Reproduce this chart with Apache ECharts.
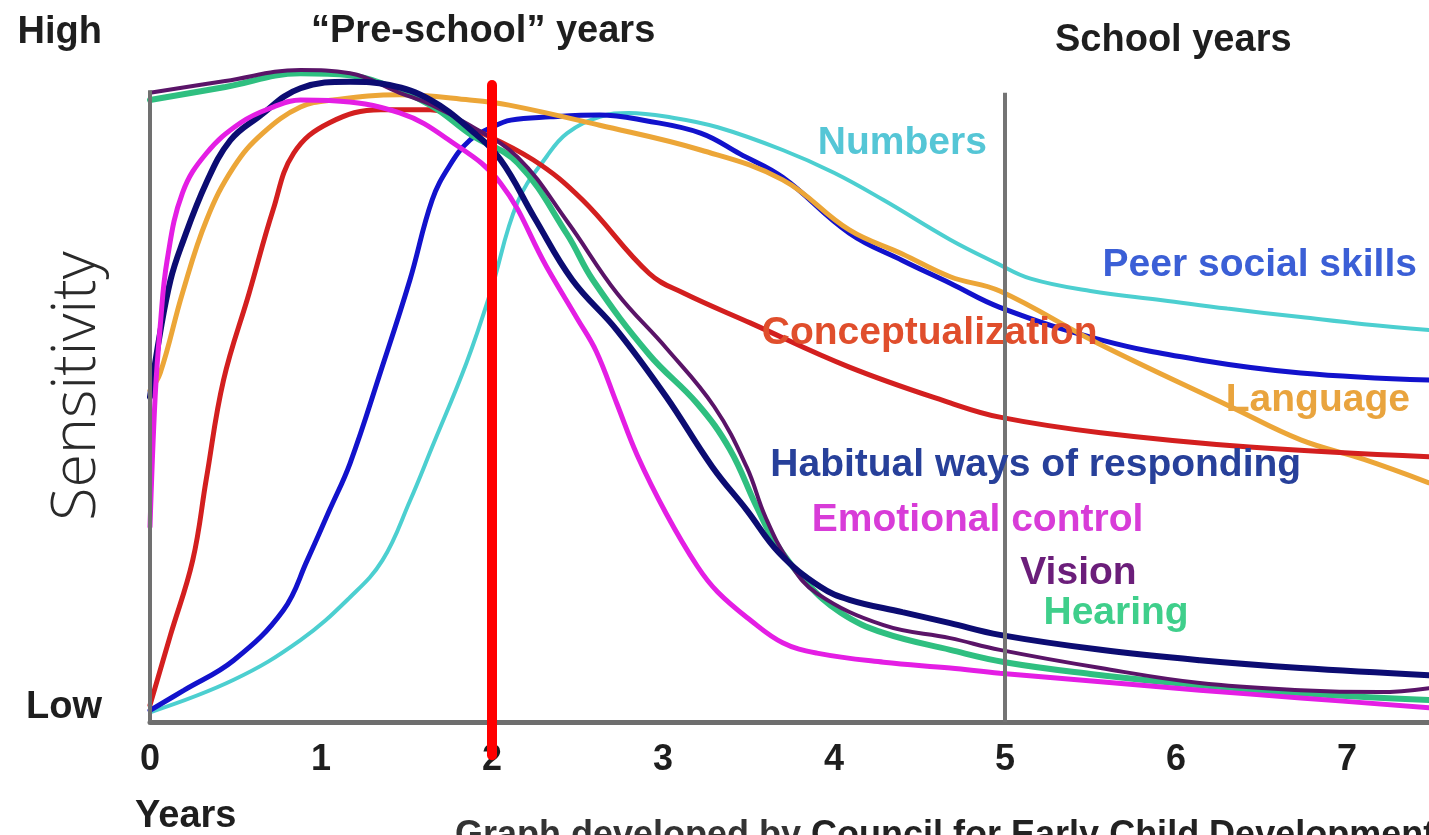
<!DOCTYPE html>
<html>
<head>
<meta charset="utf-8">
<title>Sensitivity by age</title>
<script src="https://cdn.jsdelivr.net/npm/echarts@6/dist/echarts.min.js"></script>
<style>
  html, body { margin: 0; padding: 0; background: #fff; }
  #chart { width: 1429px; height: 835px; }
</style>
</head>
<body>
<div id="chart"></div>
<script>
// x = age in years, y = sensitivity (0 = low ... ~100 = high)
const yearTicks = [0, 1, 2, 3, 4, 5, 6, 7];
const levelTicks = [2.3, 106];
const levelNames = ["Low", "High"];

const numbers = [[0,1.5],[0.49,6.5],[0.88,12.6],[1.17,19.2],[1.36,24.9],[1.52,34],[1.65,42.3],[1.85,55.2],[1.99,66],[2.15,80],[2.32,87],[2.44,90.6],[2.63,93.1],[2.8,93.7],[3.05,93],[3.32,91.5],[3.7,88],[4.0,84.5],[4.29,80.3],[4.68,74.2],[4.95,70.6],[5.15,68.2],[5.5,66.3],[5.92,64.9],[6.3,63.6],[6.73,62.3],[7.1,61.2],[7.48,60.3]];
const peerSocial = [[0,1.8],[0.2,4.9],[0.49,9.5],[0.78,17.2],[0.92,24.9],[1.05,32.6],[1.17,39.8],[1.35,54],[1.52,68],[1.65,80.3],[1.75,85.5],[1.87,89.5],[2.0,91.5],[2.11,92.6],[2.34,93.1],[2.63,93.4],[2.9,92.5],[3.22,90.6],[3.45,87.4],[3.7,83.8],[4.09,75.2],[4.4,71],[4.68,67.5],[4.97,63.8],[5.56,58.8],[6.14,55.7],[6.73,53.7],[7.48,52.6]];
const language = [[0,51],[0.06,53.7],[0.19,66],[0.33,77.2],[0.49,85.4],[0.66,90.6],[0.88,94.6],[1.07,95.7],[1.46,96.5],[1.87,95.7],[2.1,94.9],[2.63,91.8],[3.22,88],[3.7,83.4],[4.09,75.7],[4.4,72],[4.68,68.5],[4.97,66.3],[5.54,58.3],[6.32,48.5],[6.73,43.4],[7.1,40.4],[7.48,36.8]];
const conceptualization = [[0,2.6],[0.12,13.4],[0.25,24.9],[0.33,37.5],[0.43,52.6],[0.58,66],[0.72,78.8],[0.84,87.5],[1.05,92.2],[1.35,94.2],[1.64,94.2],[1.87,91.5],[2.24,86.5],[2.53,80.3],[2.92,69],[3.12,66],[3.51,61.4],[4.09,54.6],[4.68,49.1],[4.97,46.9],[5.56,44.5],[6.43,42.3],[7.48,40.8]];
const habitual = [[0,50],[0.06,60],[0.12,68],[0.18,73],[0.33,83],[0.47,89.5],[0.63,93],[0.88,97.5],[1.17,98.5],[1.4,98],[1.64,95.7],[1.88,91],[2.05,86.5],[2.25,77.5],[2.47,68],[2.73,60.3],[3.02,50],[3.29,39.2],[3.49,32.6],[3.68,26],[3.92,20.8],[4.09,18.8],[4.4,16.9],[4.68,15.2],[4.97,13.4],[5.56,11.1],[6.14,9.5],[6.73,8.3],[7.48,7.2]];
const emotional = [[0,30],[0.03,50],[0.06,61],[0.1,71],[0.19,81.4],[0.33,87.5],[0.53,92.2],[0.72,94.6],[0.88,95.7],[1.05,95.6],[1.46,93.7],[1.75,89.5],[2.05,82.9],[2.32,70],[2.5,62],[2.61,57],[2.73,49],[2.85,41],[3.02,32],[3.2,24],[3.32,20],[3.51,15.7],[3.7,12.2],[3.9,10.6],[4.29,9.2],[4.68,8.3],[4.97,7.5],[5.56,6.2],[6.14,4.9],[6.73,3.7],[7.48,2.2]];
const vision = [[0,96.8],[0.44,98.6],[0.88,100.3],[1.17,99.8],[1.46,96.8],[1.64,95],[1.87,91.8],[2.15,86.9],[2.44,77],[2.73,66],[3.02,57.5],[3.3,48.5],[3.49,39.2],[3.6,31.5],[3.74,24.5],[3.9,19.8],[4.29,14.9],[4.68,12.9],[4.97,11.1],[5.56,8.3],[6.14,6],[6.73,4.9],[7.19,4.6],[7.48,5.2]];
const hearing = [[0,95.7],[0.44,97.7],[0.88,99.8],[1.17,99.5],[1.35,98.3],[1.64,94.9],[1.88,90.3],[2.15,86],[2.44,75],[2.59,68],[2.92,56.5],[3.2,49],[3.39,42],[3.55,33],[3.66,27.5],[3.84,21.4],[4.04,16.8],[4.29,13.7],[4.68,11.1],[5.0,9.2],[5.5,7.4],[6,6],[6.5,4.9],[7,4],[7.48,3.4]];

// where each curve's name sits (data coords)
const labelSpots = {
  "Numbers": [4.40, 89.1],
  "Peer social skills": [6.49, 70.3],
  "Conceptualization": [4.56, 59.8],
  "Language": [6.83, 49.5],
  "Habitual ways of responding": [5.18, 39.5],
  "Emotional control": [4.84, 31.1],
  "Vision": [5.43, 22.9],
  "Hearing": [5.65, 16.8]
};

const curves = [
  { name: "Numbers", data: numbers, color: "#4ccfd0", text: "#55c6d6", width: 4 },
  { name: "Peer social skills", data: peerSocial, color: "#1212cc", text: "#3b5fd6", width: 5 },
  { name: "Language", data: language, color: "#eca638", text: "#e9a43e", width: 5 },
  { name: "Conceptualization", data: conceptualization, color: "#d31f1f", text: "#e04e2c", width: 5 },
  { name: "Hearing", data: hearing, color: "#2fbf80", text: "#3fcf8b", width: 6 },
  { name: "Vision", data: vision, color: "#5a1468", text: "#6b1e7a", width: 4 },
  { name: "Habitual ways of responding", data: habitual, color: "#0c0c72", text: "#27409a", width: 6 },
  { name: "Emotional control", data: emotional, color: "#e41ee4", text: "#d83cd8", width: 5 }
];

const FONT = "Liberation Sans";

const chart = echarts.init(document.getElementById("chart"));

const series = curves.map((c, i) => ({
  name: c.name,
  type: "line",
  data: c.data,
  smooth: 0.4,
  showSymbol: false,
  symbol: "none",
  z: 2 + i * 0.1,
  lineStyle: { color: c.color, width: c.width, cap: "round" },
  itemStyle: { color: c.color },
  markPoint: {
    symbol: "circle",
    symbolSize: 0,
    silent: true,
    animation: false,
    data: [{ coord: labelSpots[c.name], value: 0 }],
    label: {
      show: true,
      position: "inside",
      formatter: c.name,
      color: c.text,
      fontSize: 39,
      fontWeight: "bold",
      fontFamily: FONT
    }
  }
}));

// axis line at 0, school-start line at 5, red marker at 2
series.push({
  name: "guides",
  type: "line",
  data: [[0, 0]],
  symbol: "none",
  silent: true,
  z: 10,
  lineStyle: { opacity: 0 },
  markLine: {
    symbol: ["none", "none"],
    silent: true,
    animation: false,
    label: { show: false },
    data: [
      [{ coord: [0, 0], lineStyle: { color: "#707070", width: 4, type: "solid" } }, { coord: [0, 97.2] }],
      [{ coord: [5, 0], lineStyle: { color: "#747474", width: 4, type: "solid" } }, { coord: [5, 96.8] }],
      [{ coord: [2, -5.1], lineStyle: { color: "#ff0000", width: 10, type: "solid", cap: "round" } }, { coord: [2, 98] }]
    ]
  }
});

const titleStyle = { fontFamily: FONT, fontWeight: "bold", fontSize: 38, color: "#1e1e1e" };

const option = {
  animation: false,
  backgroundColor: "#ffffff",
  textStyle: { fontFamily: FONT },
  grid: { left: 150, right: 0, top: 33, bottom: 74, containLabel: false, outerBoundsMode: "none" },
  title: [
    { text: "\u201CPre-school\u201D years", left: 306, top: 8, textStyle: titleStyle },
    { text: "School years", left: 1050, top: 17, textStyle: titleStyle },
    { text: "Years", left: 130, top: 793, textStyle: titleStyle },
    {
      text: "{n|Graph developed by }{b|Council for Early Child Development}",
      left: 450, top: 813,
      textStyle: {
        rich: {
          n: { fontFamily: FONT, fontSize: 36, color: "#333" },
          b: { fontFamily: FONT, fontSize: 36, fontWeight: "bold", color: "#222" }
        }
      }
    }
  ],
  xAxis: {
    type: "value",
    min: 0,
    max: 7.48,
    interval: 1,
    axisLine: { onZero: true, lineStyle: { color: "#6e6e6e", width: 5 } },
    axisTick: { show: false },
    splitLine: { show: false },
    axisLabel: {
      customValues: yearTicks,
      formatter: v => (yearTicks.includes(v) ? String(v) : ""),
      margin: -19,
      fontSize: 36,
      fontWeight: "bold",
      color: "#1e1e1e",
      fontFamily: FONT
    }
  },
  yAxis: {
    type: "value",
    min: -6,
    max: 106,
    axisLine: { show: false },
    axisTick: { show: false },
    splitLine: { show: false },
    axisLabel: {
      customValues: levelTicks,
      formatter: v => (v > 50 ? levelNames[1] : levelNames[0]),
      margin: 48,
      fontSize: 38,
      fontWeight: "bold",
      color: "#1e1e1e",
      fontFamily: FONT
    },
    name: "Sensitivity",
    nameLocation: "middle",
    nameRotate: 90,
    nameGap: 42,
    nameMoveOverlap: false,
    nameTextStyle: { fontFamily: "Open Sans", fontSize: 61, fontWeight: 300, color: "#2a2a2a", padding: [0, 0, 0, 22] }
  },
  series: series
};

chart.setOption(option);
</script>
</body>
</html>
